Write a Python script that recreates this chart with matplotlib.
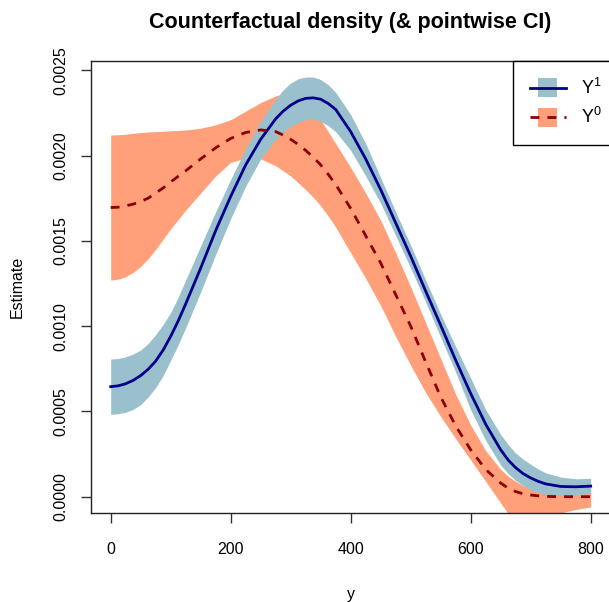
import matplotlib
matplotlib.use("Agg")
import matplotlib.pyplot as plt
import numpy as np
from matplotlib.legend_handler import HandlerBase
from matplotlib.patches import Rectangle
from matplotlib.lines import Line2D

plt.rcParams['font.family'] = ['Liberation Sans', 'DejaVu Sans']
plt.rcParams['mathtext.fontset'] = 'custom'
plt.rcParams['mathtext.rm'] = 'Liberation Sans'
plt.rcParams['mathtext.it'] = 'Liberation Sans'

y = [0, 12.5, 25, 37.5, 50, 62.5, 75, 87.5, 100, 112.5, 125, 150, 175, 200, 225,
     250, 275, 287.5, 300, 312.5, 325, 337.5, 350, 362.5, 375, 400, 425, 450, 475,
     500, 525, 550, 575, 600, 625, 650, 662.5, 675, 687.5, 700, 712.5, 725, 750,
     775, 800]

# densities, in units of 1e-4
y1_est = [6.45, 6.5, 6.62, 6.82, 7.1, 7.47, 7.95, 8.6, 9.4, 10.3, 11.3, 13.4, 15.6,
          17.6, 19.45, 20.95, 22.15, 22.6, 22.95, 23.2, 23.35, 23.38, 23.3, 23.05,
          22.7, 21.4, 19.8, 18.0, 16.05, 14.1, 12.05, 10.05, 8.0, 6.05, 4.25, 2.75,
          2.15, 1.7, 1.35, 1.1, 0.9, 0.75, 0.6, 0.58, 0.62]
y1_hi = [8.07, 8.1, 8.2, 8.37, 8.6, 8.98, 9.5, 10.1, 10.8, 11.7, 12.7, 14.7, 16.7,
         18.6, 20.4, 22.0, 23.3, 23.85, 24.25, 24.5, 24.6, 24.6, 24.45, 24.15, 23.7,
         22.4, 20.7, 18.7, 16.7, 14.75, 12.7, 10.7, 8.8, 6.95, 5.1, 3.65, 3.05, 2.55,
         2.2, 1.9, 1.62, 1.4, 1.15, 1.05, 1.08]
y1_lo = [4.83, 4.86, 4.95, 5.12, 5.4, 5.85, 6.4, 7.1, 8.0, 8.9, 9.9, 12.0, 14.2,
         16.3, 18.2, 19.8, 20.95, 21.35, 21.7, 21.95, 22.1, 22.12, 22.0, 21.75, 21.4,
         20.3, 18.8, 17.2, 15.3, 13.4, 11.4, 9.35, 7.3, 5.1, 3.3, 1.85, 1.35, 0.95,
         0.65, 0.4, 0.25, 0.15, 0.1, 0.12, 0.2]

y0_est = [16.95, 16.97, 17.05, 17.15, 17.3, 17.5, 17.8, 18.1, 18.45, 18.78, 19.1,
          19.8, 20.45, 21.0, 21.35, 21.5, 21.4, 21.2, 20.95, 20.65, 20.3, 19.9, 19.45,
          18.9, 18.3, 16.9, 15.3, 13.7, 11.85, 10.0, 7.9, 5.85, 4.15, 2.75, 1.6, 0.8,
          0.5, 0.3, 0.17, 0.1, 0.05, 0.02, 0.0, 0.0, 0.0]
y0_hi = [21.2, 21.22, 21.25, 21.3, 21.35, 21.38, 21.4, 21.42, 21.45, 21.47, 21.5,
         21.6, 21.8, 22.1, 22.6, 23.1, 23.5, 23.6, 23.6, 23.45, 23.2, 22.7, 22.1,
         21.4, 20.7, 19.3, 17.8, 16.2, 14.3, 12.3, 10.2, 8.1, 6.0, 4.2, 2.7, 1.6,
         1.2, 0.9, 0.65, 0.5, 0.4, 0.35, 0.3, 0.35, 0.4]
y0_lo = [12.7, 12.75, 12.9, 13.15, 13.5, 13.95, 14.5, 15.1, 15.7, 16.25, 16.8, 17.8,
         18.8, 19.6, 19.85, 19.8, 19.4, 19.1, 18.8, 18.4, 18.0, 17.55, 17.05, 16.45,
         15.8, 14.3, 12.8, 11.2, 9.4, 7.7, 6.1, 4.7, 3.4, 2.15, 0.9, -0.37, -1.0,
         -1.15, -1.22, -1.25, -1.22, -1.15, -0.95, -0.75, -0.6]

sc = 1e-4
c1_fill, c1_line = '#9AC0CD', '#00008B'
c0_fill, c0_line = '#FFA07A', '#8B0000'
dash = (0, (3.2, 2.9))


class BandLine(HandlerBase):
    # legend key: filled square with the line drawn through it
    def create_artists(self, legend, orig_handle, xdescent, ydescent,
                       width, height, fontsize, trans):
        fc, lc, ls = orig_handle
        s = height * 1.5
        sq = Rectangle((width / 2 - s / 2 - xdescent, height / 2 - s / 2 - ydescent),
                       s, s, facecolor=fc, edgecolor='none', transform=trans)
        ln = Line2D([-xdescent, width - xdescent], [height / 2 - ydescent] * 2,
                    color=lc, linestyle=ls, linewidth=2, transform=trans)
        return [sq, ln]


fig = plt.figure(figsize=(6.09, 6.02), dpi=100)
ax = fig.add_axes([91 / 609, (602 - 513.3) / 602, (610 - 91) / 609, (513.3 - 61) / 602])

ax.fill_between(y, np.array(y0_lo) * sc, np.array(y0_hi) * sc, color=c0_fill, linewidth=0)
ax.fill_between(y, np.array(y1_lo) * sc, np.array(y1_hi) * sc, color=c1_fill, linewidth=0)
ax.plot(y, np.array(y1_est) * sc, color=c1_line, linewidth=2)
ax.plot(y, np.array(y0_est) * sc, color=c0_line, linewidth=2, linestyle=dash)

ax.set_xlim(-32.8, 832.2)
ax.set_ylim(-0.0000973, 0.002554)
ax.set_xticks([0, 200, 400, 600, 800])
ax.set_yticks([0, 0.0005, 0.001, 0.0015, 0.002, 0.0025])
ax.set_yticklabels(['0.0000', '0.0005', '0.0010', '0.0015', '0.0020', '0.0025'],
                   rotation=90, va='center')
ax.tick_params(direction='out', length=7, width=1, labelsize=11.5, color='#333333')
ax.tick_params(axis='x', pad=14)
ax.tick_params(axis='y', pad=9)
for sp in ax.spines.values():
    sp.set_linewidth(1)
    sp.set_color('#222222')

ax.set_xlabel('y', fontsize=11.5, labelpad=21)
ax.set_ylabel('Estimate', fontsize=11.5, labelpad=21)
ax.set_title('Counterfactual density (& pointwise CI)', fontsize=15.5,
             fontweight='bold', pad=24)

handles = [(c1_fill, c1_line, '-'), (c0_fill, c0_line, dash)]
leg = ax.legend(handles, [r'$\mathrm{Y}^{1}$', r'$\mathrm{Y}^{0}$'],
                handler_map={tuple: BandLine()}, loc='upper right',
                bbox_to_anchor=(1 + 9 / 519, 1), borderaxespad=0, fontsize=13,
                handlelength=2.0, handletextpad=0.85, labelspacing=0.5,
                borderpad=0.95, fancybox=False, framealpha=1, edgecolor='black')
leg.get_frame().set_linewidth(1)

fig.savefig('out.png', dpi=100)
